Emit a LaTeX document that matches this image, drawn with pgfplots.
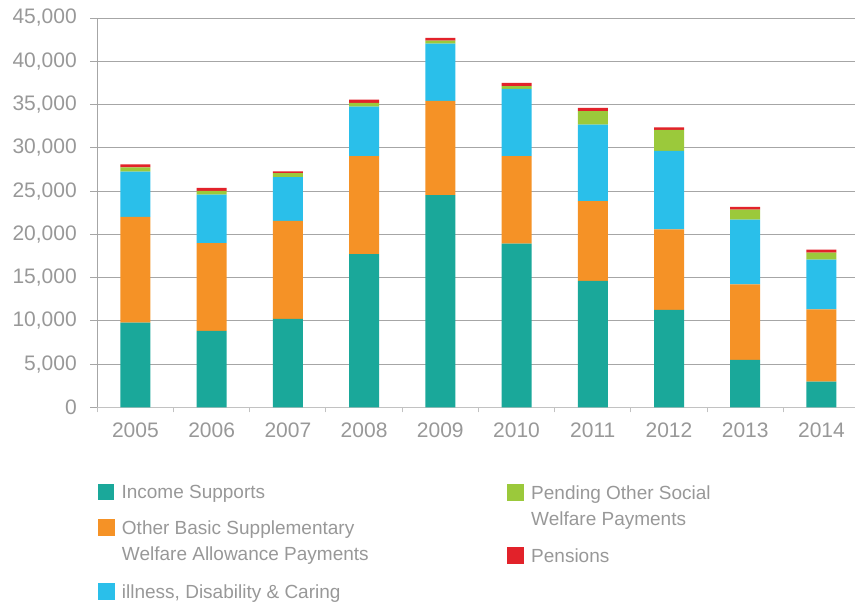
\documentclass[border=0pt]{standalone}
\usepackage{fontspec}
\setmainfont{Liberation Sans}
\usepackage{pgfplots}
\pgfplotsset{compat=1.18}
\usepackage{pgfplotstable}

\definecolor{cteal}{HTML}{1AA89A}
\definecolor{corange}{HTML}{F59226}
\definecolor{cblue}{HTML}{2ABFEA}
\definecolor{cgreen}{HTML}{9BC93B}
\definecolor{cred}{HTML}{E2222A}
\definecolor{txtgray}{HTML}{989898}
\definecolor{gridgray}{HTML}{A6A6A6}
\definecolor{axgray}{HTML}{C2C2C2}

% payments by year
\pgfplotstableread{
x year income other illness pending pensions
0 2005  9780 12220 5240  500 350
1 2006  8820 10170 5590  430 340
2 2007 10210 11330 5080  460 200
3 2008 17720 11300 5730  430 380
4 2009 24540 10870 6630  340 310
5 2010 18910 10110 7780  340 350
6 2011 14600  9220 8850 1580 350
7 2012 11250  9330 9050 2430 310
8 2013  5470  8750 7470 1150 320
9 2014  2960  8370 5730  810 350
}\welfare

\newcommand\twolines[2]{\parbox[t]{320pt}{#1\\#2}}

\pgfplotsset{
  sqleg/.style={legend image code/.code={\fill[#1] (0pt,-7pt) rectangle (16pt,9pt);}},
  legfont/.style={
    legend cell align=left,
    legend style={draw=none, fill=none, inner sep=0pt, outer sep=0pt,
      nodes={inner sep=0pt},
      /tikz/every odd column/.append style={column sep=7.5pt},
      font=\fontsize{19}{25.7}\selectfont, text=txtgray},
  },
  % invisible axis that only carries one legend entry
  legaxis/.style={
    at={(97.3pt,195.7pt)}, anchor=south west,
    width=757.7pt, height=389.3pt, scale only axis,
    hide axis, xmin=0, xmax=1, ymin=0, ymax=1,
    legfont,
    legend style={at={(#1)}, anchor=north west},
  },
}

\begin{document}
\begin{tikzpicture}
\begin{axis}[
    at={(97.3pt,195.7pt)}, anchor=south west,
    width=757.7pt, height=389.3pt, scale only axis,
    ybar stacked, bar width=30pt,
    xmin=-0.5, xmax=9.44, ymin=0, ymax=45000,
    xtick=data,
    xticklabels={2005,2006,2007,2008,2009,2010,2011,2012,2013,2014},
    minor xtick={-0.5,0.5,...,8.5},
    ytick={0,5000,...,45000},
    scaled y ticks=false,
    ticklabel style={font=\fontsize{21}{25}\selectfont, text=txtgray},
    yticklabel style={xshift=-10pt, /pgf/number format/.cd, fixed, 1000 sep={,}, assume math mode=true},
    xticklabel style={yshift=-5pt},
    axis x line*=bottom, axis y line*=left,
    x axis line style={-, axgray, line width=1.5pt},
    y axis line style={-, gridgray, line width=1pt},
    ymajorgrids,
    major grid style={gridgray, line width=1pt},
    tick align=outside,
    major tick length=7pt, minor tick length=5pt,
    major x tick style={draw=none},
    minor x tick style={axgray, line width=1pt},
    ytick style={gridgray, line width=1pt},
    legfont,
    legend style={at={(0.001,-0.197)}, anchor=north west},
]
\addplot[fill=cteal, draw=none, sqleg=cteal] table[x=x, y=income] {\welfare};
\addlegendentry{Income Supports}
\addplot[fill=corange, draw=none, forget plot] table[x=x, y=other] {\welfare};
\addplot[fill=cblue, draw=none, forget plot] table[x=x, y=illness] {\welfare};
\addplot[fill=cgreen, draw=none, forget plot] table[x=x, y=pending] {\welfare};
\addplot[fill=cred, draw=none, forget plot] table[x=x, y=pensions] {\welfare};
\end{axis}

% remaining legend entries, each placed on its own
\begin{axis}[legaxis={0.001,-0.2878}]
\addlegendimage{sqleg=corange}
\addlegendentry{\twolines{Other Basic Supplementary}{Welfare Allowance Payments}}
\end{axis}
\begin{axis}[legaxis={0.001,-0.4522}]
\addlegendimage{sqleg=cblue}
\addlegendentry{illness, Disability \& Caring}
\end{axis}
\begin{axis}[legaxis={0.5411,-0.197}]
\addlegendimage{sqleg=cgreen}
\addlegendentry{\twolines{Pending Other Social}{Welfare Payments}}
\end{axis}
\begin{axis}[legaxis={0.5411,-0.3597}]
\addlegendimage{sqleg=cred}
\addlegendentry{Pensions}
\end{axis}

\pgfresetboundingbox
\path[use as bounding box] (0,0) rectangle (855pt,603pt);
\end{tikzpicture}
\end{document}
